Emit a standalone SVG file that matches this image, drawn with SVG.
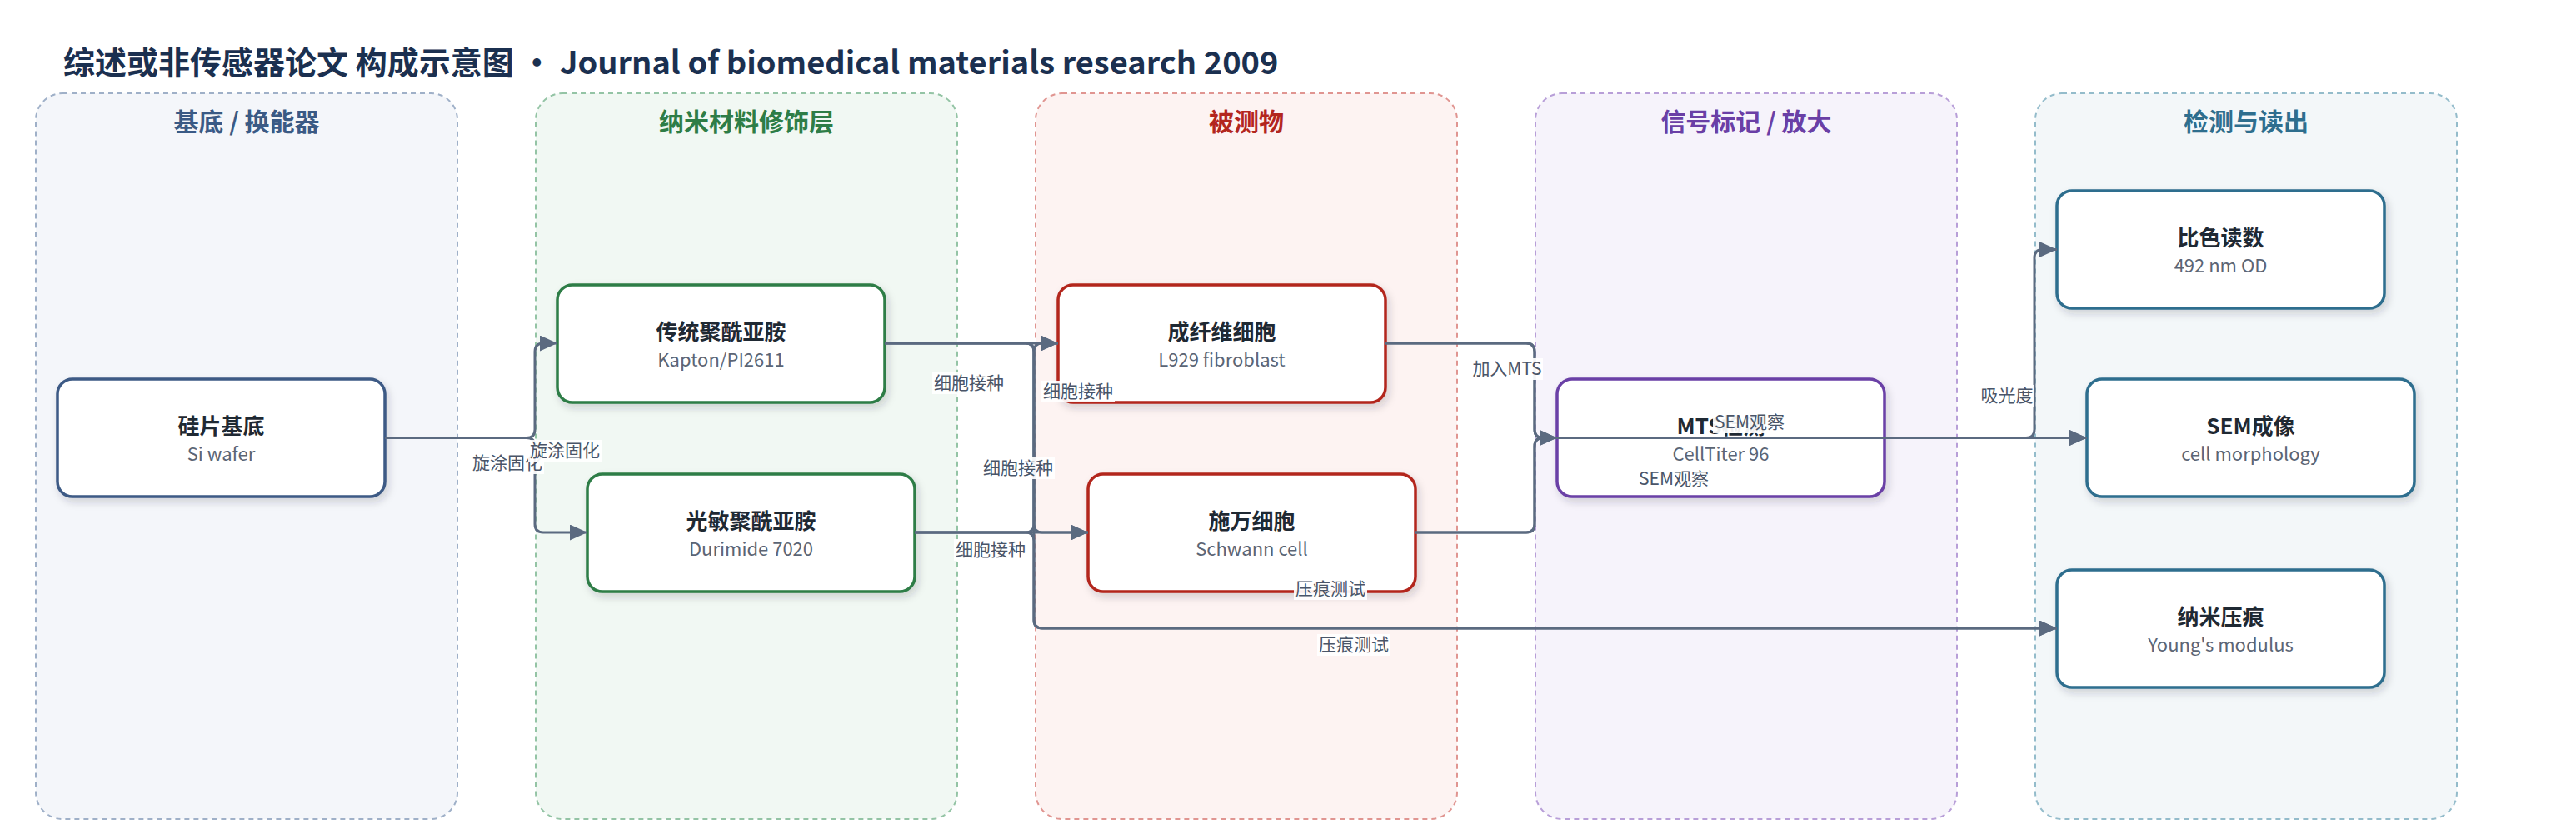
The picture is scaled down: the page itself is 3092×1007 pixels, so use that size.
<svg xmlns="http://www.w3.org/2000/svg" width="3092" height="1007" viewBox="0 0 3092 1007">
<style>
text{font-family:"Noto Sans CJK SC","Noto Sans",sans-serif}
.title{font-size:38px;font-weight:700;fill:#1b3050}
.lh{font-size:30px;font-weight:700;text-anchor:middle}
.lane{stroke-width:2;stroke-dasharray:6 5}
.node{fill:#ffffff;stroke-width:3.5;filter:url(#sh)}
.nt{font-size:26px;font-weight:700;fill:#1f2933;text-anchor:middle}
.ns{font-size:22px;fill:#5b6575;text-anchor:middle}
.e{fill:none;stroke:#5b6a80;stroke-width:3;marker-end:url(#ah)}
.lb{fill:#ffffff;fill-opacity:0.92}
.lt{font-size:21px;fill:#4a5568;text-anchor:middle}
</style>
<defs>
<filter id="sh" x="-10%" y="-10%" width="125%" height="135%">
<feDropShadow dx="3" dy="5" stdDeviation="5" flood-color="#1b2a40" flood-opacity="0.18"/>
</filter>
<marker id="ah" markerUnits="userSpaceOnUse" markerWidth="21" markerHeight="19" refX="21" refY="9.5" orient="auto">
<path d="M0,0 L21,9.5 L0,19 z" fill="#5b6a80"/>
</marker>
</defs>
<rect width="3092" height="1007" fill="#ffffff"/>
<text class="title" x="76" y="89">综述或非传感器论文 构成示意图 · Journal of biomedical materials research 2009</text>

<g id="lanes">
<g id="lane1"><rect class="lane" x="43" y="112" width="506" height="871" rx="32" fill="#f4f6fa" stroke="#9fb0c8"/><text class="lh" x="296" y="157" fill="#3a5a85">基底 / 换能器</text></g>
<g id="lane2"><rect class="lane" x="643" y="112" width="506" height="871" rx="32" fill="#f1f8f3" stroke="#94c4a5"/><text class="lh" x="896" y="157" fill="#2e7d46">纳米材料修饰层</text></g>
<g id="lane3"><rect class="lane" x="1243" y="112" width="506" height="871" rx="32" fill="#fdf3f2" stroke="#e09591"/><text class="lh" x="1496" y="157" fill="#b3261e">被测物</text></g>
<g id="lane4"><rect class="lane" x="1843" y="112" width="506" height="871" rx="32" fill="#f6f3fb" stroke="#b89fd8"/><text class="lh" x="2096" y="157" fill="#6a3fa6">信号标记 / 放大</text></g>
<g id="lane5"><rect class="lane" x="2443" y="112" width="506" height="871" rx="32" fill="#f3f7f9" stroke="#94bccb"/><text class="lh" x="2696" y="157" fill="#2e6e8e">检测与读出</text></g>
</g>

<g id="n-si"><rect class="node" x="69" y="455" width="393" height="141" rx="18" stroke="#3d5a85"/><text class="nt" x="265.5" y="521">硅片基底</text><text class="ns" x="265.5" y="553">Si wafer</text></g>
<g id="n-pi"><rect class="node" x="669" y="342" width="393" height="141" rx="18" stroke="#2e7d46"/><text class="nt" x="865.5" y="408">传统聚酰亚胺</text><text class="ns" x="865.5" y="440">Kapton/PI2611</text></g>
<g id="n-psi"><rect class="node" x="705" y="569" width="393" height="141" rx="18" stroke="#2e7d46"/><text class="nt" x="901.5" y="635">光敏聚酰亚胺</text><text class="ns" x="901.5" y="667">Durimide 7020</text></g>
<g id="n-fib"><rect class="node" x="1270" y="342" width="393" height="141" rx="18" stroke="#b3261e"/><text class="nt" x="1466.5" y="408">成纤维细胞</text><text class="ns" x="1466.5" y="440">L929 fibroblast</text></g>
<g id="n-sch"><rect class="node" x="1306" y="569" width="393" height="141" rx="18" stroke="#b3261e"/><text class="nt" x="1502.5" y="635">施万细胞</text><text class="ns" x="1502.5" y="667">Schwann cell</text></g>
<g id="n-mts"><rect class="node" x="1869" y="455" width="393" height="141" rx="18" stroke="#6a3fa6"/><text class="nt" x="2065.5" y="521">MTS检测</text><text class="ns" x="2065.5" y="553">CellTiter 96</text></g>
<g id="n-od"><rect class="node" x="2469" y="229" width="393" height="141" rx="18" stroke="#2e6e8e"/><text class="nt" x="2665.5" y="295">比色读数</text><text class="ns" x="2665.5" y="327">492 nm OD</text></g>
<g id="n-sem"><rect class="node" x="2505" y="455" width="393" height="141" rx="18" stroke="#2e6e8e"/><text class="nt" x="2701.5" y="521">SEM成像</text><text class="ns" x="2701.5" y="553">cell morphology</text></g>
<g id="n-ni"><rect class="node" x="2469" y="684" width="393" height="141" rx="18" stroke="#2e6e8e"/><text class="nt" x="2665.5" y="750">纳米压痕</text><text class="ns" x="2665.5" y="782">Young's modulus</text></g>

<g id="connectors">
<path class="e" d="M462,525.5 H632 Q642,525.5 642,515.5 V422 Q642,412 652,412 H669"/>
<path class="e" d="M462,525.5 H632 Q642,525.5 642,535.5 V629 Q642,639 652,639 H705"/>
<path class="e" d="M1062,412 H1270"/>
<path class="e" d="M1062,412 H1231 Q1241,412 1241,422 V629 Q1241,639 1251,639 H1306"/>
<path class="e" d="M1062,412 H1231 Q1241,412 1241,422 V744 Q1241,754 1251,754 H2469"/>
<path class="e" d="M1098,639 H1306"/>
<path class="e" d="M1098,639 H1231 Q1241,639 1241,629 V422 Q1241,412 1251,412 H1270"/>
<path class="e" d="M1098,639 H1231 Q1241,639 1241,649 V744 Q1241,754 1251,754 H2469"/>
<path class="e" d="M1663,412 H1832 Q1842,412 1842,422 V515.5 Q1842,525.5 1852,525.5 H1869"/>
<path class="e" d="M1699,639 H1832 Q1842,639 1842,629 V535.5 Q1842,525.5 1852,525.5 H1869"/>
<path class="e" d="M1663,412 H1832 Q1842,412 1842,422 V515.5 Q1842,525.5 1852,525.5 H2505"/>
<path class="e" d="M1699,639 H1832 Q1842,639 1842,629 V535.5 Q1842,525.5 1852,525.5 H2505"/>
<path class="e" d="M2262,525.5 H2432 Q2442,525.5 2442,515.5 V309.5 Q2442,299.5 2452,299.5 H2469"/>
</g>

<g id="labels">
<rect class="lb" x="565" y="543" width="88" height="26"/><text class="lt" x="609" y="563">旋涂固化</text>
<rect class="lb" x="634" y="528" width="88" height="26"/><text class="lt" x="678" y="548">旋涂固化</text>
<rect class="lb" x="1119" y="447" width="88" height="26"/><text class="lt" x="1163" y="467">细胞接种</text>
<rect class="lb" x="1250" y="457" width="88" height="26"/><text class="lt" x="1294" y="477">细胞接种</text>
<rect class="lb" x="1178" y="549" width="88" height="26"/><text class="lt" x="1222" y="569">细胞接种</text>
<rect class="lb" x="1145" y="647" width="88" height="26"/><text class="lt" x="1189" y="667">细胞接种</text>
<rect class="lb" x="1553" y="694" width="88" height="26"/><text class="lt" x="1597" y="714">压痕测试</text>
<rect class="lb" x="1581" y="761" width="88" height="26"/><text class="lt" x="1625" y="781">压痕测试</text>
<rect class="lb" x="1766" y="430" width="86" height="26"/><text class="lt" x="1809" y="450">加入MTS</text>
<rect class="lb" x="2056" y="494" width="88" height="26"/><text class="lt" x="2100" y="514">SEM观察</text>
<rect class="lb" x="1965" y="562" width="88" height="26"/><text class="lt" x="2009" y="582">SEM观察</text>
<rect class="lb" x="2376" y="462" width="66" height="26"/><text class="lt" x="2409" y="482">吸光度</text>
</g>
</svg>
